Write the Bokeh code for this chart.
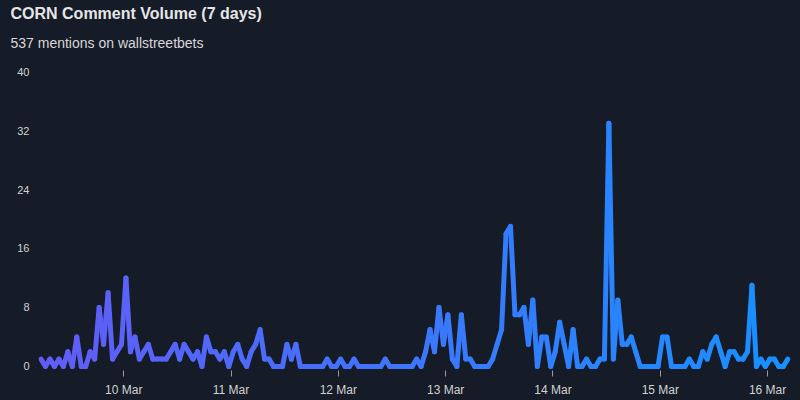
from datetime import datetime, timedelta

from bokeh.plotting import figure
from bokeh.models import ColumnDataSource, Range1d, FixedTicker, DaysTicker, DatetimeTickFormatter, Title
from bokeh.embed import file_html
from bokeh.resources import INLINE

# ---------------- data ----------------
title_text = "CORN Comment Volume (7 days)"
subtitle_text = "537 mentions on wallstreetbets"
start_time = datetime(2024, 3, 9, 5, 30)   # first hourly sample
mentions = [
    1, 0, 1, 0, 1, 0, 2, 0, 4, 0, 0, 2, 1, 8, 3, 10, 1, 2, 3, 12, 2, 4, 1, 2,
    3, 1, 1, 1, 1, 2, 3, 1, 3, 2, 1, 2, 0, 4, 2, 2, 1, 2, 0, 2, 3, 1, 0, 2,
    3, 5, 1, 1, 0, 0, 0, 3, 1, 3, 0, 0, 0, 0, 0, 0, 1, 0, 0, 1, 0, 0, 1, 0,
    0, 0, 0, 0, 0, 1, 0, 0, 0, 0, 0, 0, 1, 0, 2, 5, 2, 8, 3, 7, 1, 0, 7, 1,
    1, 0, 0, 0, 0, 1, 3, 5, 18, 19, 7, 7, 8, 3, 9, 0, 4, 4, 0, 2, 6, 3, 0, 5,
    0, 0, 1, 0, 0, 1, 1, 33, 1, 9, 3, 3, 4, 2, 0, 0, 0, 0, 0, 4, 4, 0, 0, 0,
    0, 1, 0, 0, 2, 1, 3, 4, 2, 0, 2, 2, 1, 1, 2, 11, 0, 1, 0, 1, 1, 0, 0, 1,
]
y_ticks = [0, 8, 16, 24, 32, 40]

# ---------------- styling ----------------
BG = "#151b27"
FONT = "Liberation Sans"
C_START = (98, 92, 246)
C_END = (24, 144, 255)

epoch = datetime(1970, 1, 1)
def to_ms(t):
    return (t - epoch).total_seconds() * 1000.0

times = [to_ms(start_time + timedelta(hours=i)) for i in range(len(mentions))]

xs, ys, cols = [], [], []
n = len(mentions)
for i in range(n - 1):
    f = i / (n - 2)
    r = round(C_START[0] + (C_END[0] - C_START[0]) * f)
    g = round(C_START[1] + (C_END[1] - C_START[1]) * f)
    b = round(C_START[2] + (C_END[2] - C_START[2]) * f)
    xs.append([times[i], times[i + 1]])
    ys.append([mentions[i], mentions[i + 1]])
    cols.append("#%02x%02x%02x" % (r, g, b))

src = ColumnDataSource(dict(xs=xs, ys=ys, color=cols))

hour = 3600 * 1000.0
p = figure(
    width=800, height=400,
    x_axis_type="datetime",
    x_range=Range1d(times[0] - 0.56 * hour, times[-1] + 0.84 * hour),
    y_range=Range1d(-0.544, 40.544),
    output_backend="svg", toolbar_location=None,
    min_border_left=38, min_border_right=9, min_border_top=10, min_border_bottom=30,
    background_fill_color=BG, border_fill_color=BG, outline_line_color=None,
)

p.multi_line(xs="xs", ys="ys", line_color="color", line_width=5,
             line_cap="round", line_join="round", source=src)

p.xgrid.grid_line_color = None
p.ygrid.grid_line_color = None

xa = p.xaxis[0]
xa.ticker = DaysTicker(days=list(range(1, 32)))
xa.formatter = DatetimeTickFormatter(days="%d %b", months="%d %b", hours="%d %b")
xa.axis_line_color = None
xa.major_tick_in = 0
xa.major_tick_out = 6
xa.major_tick_line_color = "#9a9a9a"
xa.minor_tick_line_color = None
xa.major_label_standoff = 6
xa.major_label_text_font = FONT
xa.major_label_text_font_size = "12px"
xa.major_label_text_color = "#d2d2d2"

ya = p.yaxis[0]
ya.ticker = FixedTicker(ticks=y_ticks)
ya.axis_line_color = None
ya.major_tick_in = 0
ya.major_tick_out = 0
ya.minor_tick_line_color = None
ya.major_label_standoff = 9
ya.major_label_text_font = FONT
ya.major_label_text_font_size = "11px"
ya.major_label_text_color = "#d2d2d2"

# titles stacked above the frame (first added = closest to the frame)
p.add_layout(Title(text=" ", text_font_size="1px", standoff=5, text_color=BG), "above")
p.add_layout(Title(text=subtitle_text, align="left", offset=-28, standoff=17,
                   text_font=FONT, text_font_size="14px", text_font_style="normal",
                   text_color="#d8d8d8"), "above")
p.add_layout(Title(text=title_text, align="left", offset=-28, standoff=5,
                   text_font=FONT, text_font_size="16px", text_font_style="bold",
                   text_color="#e6e6e6"), "above")

html = file_html(p, INLINE)
html = html.replace("<head>", "<head><style>html,body{background:%s;}</style>" % BG, 1)
open("out.html", "w").write(html)
